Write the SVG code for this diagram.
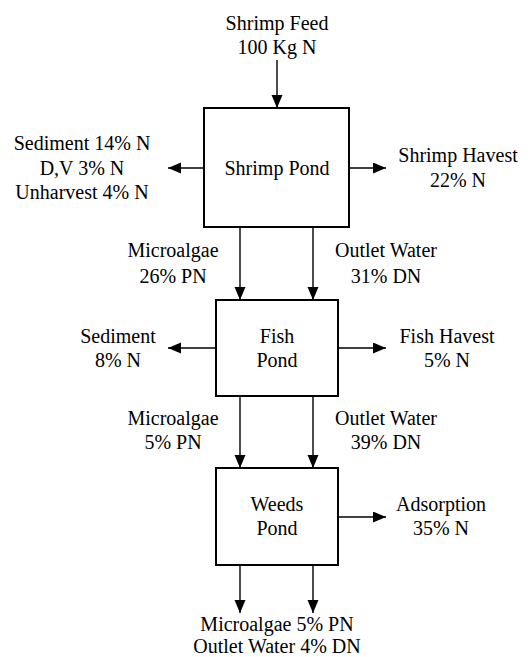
<svg xmlns="http://www.w3.org/2000/svg" width="528" height="657" viewBox="0 0 528 657">
<style>
text{font-family:"Liberation Serif","Times New Roman",serif;font-size:20px;fill:#000;text-anchor:middle}
.box{fill:#fff;stroke:#000;stroke-width:2}
.ln{stroke:#000;stroke-width:1.4;fill:none;marker-end:url(#ah)}
</style>
<defs>
<marker id="ah" markerUnits="userSpaceOnUse" markerWidth="14" markerHeight="12" refX="13" refY="5.5" orient="auto">
<path d="M0,0 L13,5.5 L0,11 Z" fill="#000"/>
</marker>
</defs>
<rect width="528" height="657" fill="#fff"/>
<g id="connectors">
<line class="ln" x1="277" y1="60" x2="277" y2="108"/>
<line class="ln" x1="204" y1="168" x2="168" y2="168"/>
<line class="ln" x1="349" y1="168" x2="386" y2="168"/>
<line class="ln" x1="240" y1="228" x2="240" y2="300"/>
<line class="ln" x1="313" y1="228" x2="313" y2="300"/>
<line class="ln" x1="216" y1="348" x2="168" y2="348"/>
<line class="ln" x1="338" y1="348" x2="386" y2="348"/>
<line class="ln" x1="240" y1="396" x2="240" y2="468"/>
<line class="ln" x1="313" y1="396" x2="313" y2="468"/>
<line class="ln" x1="338" y1="517" x2="386" y2="517"/>
<line class="ln" x1="240" y1="565" x2="240" y2="613"/>
<line class="ln" x1="313" y1="565" x2="313" y2="613"/>
</g>
<g id="shrimp-pond">
<rect class="box" x="204" y="108" width="145" height="119"/>
<text x="277" y="175">Shrimp Pond</text>
</g>
<g id="fish-pond">
<rect class="box" x="216" y="300" width="122" height="96"/>
<text x="277" y="343">Fish</text>
<text x="277" y="367">Pond</text>
</g>
<g id="weeds-pond">
<rect class="box" x="216" y="468" width="122" height="97"/>
<text x="277" y="511">Weeds</text>
<text x="277" y="535">Pond</text>
</g>
<g id="labels">
<text x="277" y="30">Shrimp Feed</text>
<text x="277" y="54">100 Kg N</text>
<text x="82" y="150">Sediment 14% N</text>
<text x="82" y="175">D,V 3% N</text>
<text x="82" y="199">Unharvest 4% N</text>
<text x="458" y="162">Shrimp Havest</text>
<text x="458" y="187">22% N</text>
<text x="173" y="257">Microalgae</text>
<text x="173" y="283">26% PN</text>
<text x="386" y="257">Outlet Water</text>
<text x="386" y="283">31% DN</text>
<text x="118" y="343">Sediment</text>
<text x="118" y="367">8% N</text>
<text x="447" y="343">Fish Havest</text>
<text x="447" y="367">5% N</text>
<text x="173" y="425">Microalgae</text>
<text x="173" y="449">5% PN</text>
<text x="386" y="425">Outlet Water</text>
<text x="386" y="449">39% DN</text>
<text x="441" y="511">Adsorption</text>
<text x="441" y="535">35% N</text>
<text x="277" y="631">Microalgae 5% PN</text>
<text x="277" y="653">Outlet Water 4% DN</text>
</g>
</svg>
